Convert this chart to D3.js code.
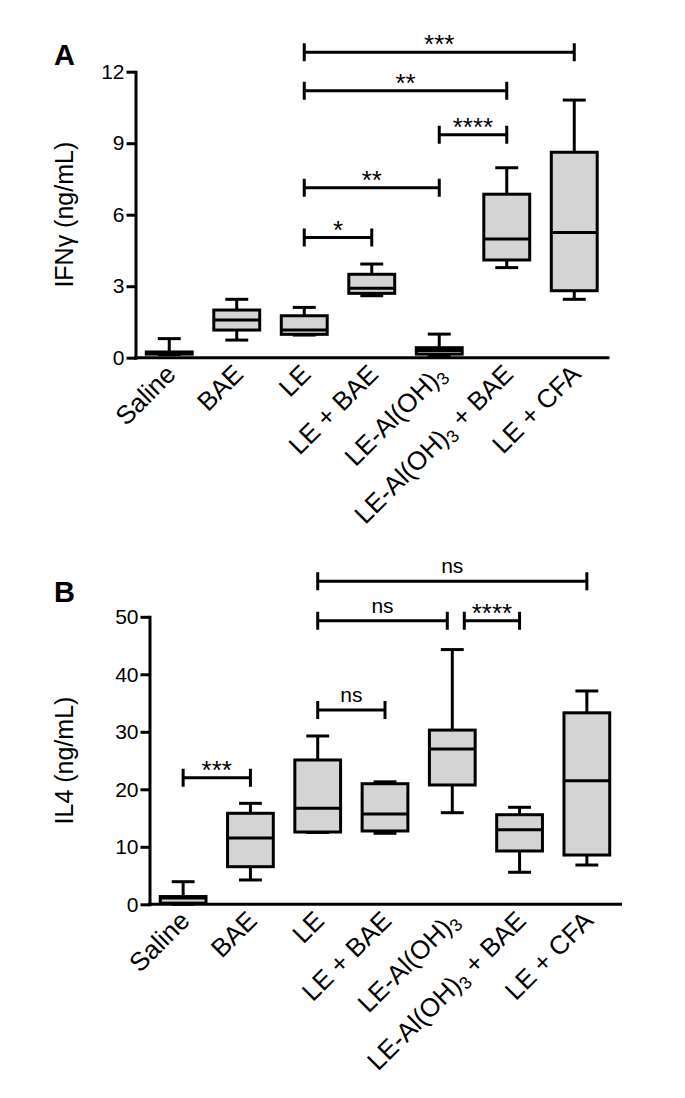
<!DOCTYPE html>
<html>
<head>
<meta charset="utf-8">
<script src="https://cdn.jsdelivr.net/npm/d3@7/dist/d3.min.js"></script>
<style>
  html, body { margin: 0; padding: 0; background: #fff; }
  svg { display: block; font-family: "Liberation Sans", Arial, Helvetica, sans-serif; }
</style>
</head>
<body>
<svg id="chart" width="685" height="1098"></svg>
<script>
// ---------------- data ----------------
const categories = ["Saline", "BAE", "LE", "LE + BAE", "LE-Al(OH)3", "LE-Al(OH)3 + BAE", "LE + CFA"];

// Panel A: IFN-gamma (ng/mL)
const ifngMin    = [0.13, 0.74, 0.95, 2.60, 0.07, 3.78, 2.45];
const ifngQ1     = [0.15, 1.16, 0.98, 2.70, 0.15, 4.10, 2.81];
const ifngMedian = [0.20, 1.58, 1.16, 2.91, 0.30, 4.98, 5.25];
const ifngQ3     = [0.24, 2.00, 1.76, 3.50, 0.42, 6.86, 8.62];
const ifngMax    = [0.80, 2.45, 2.11, 3.93, 0.99, 7.97, 10.81];
const ifngTicks  = [0, 3, 6, 9, 12];
const ifngSig = [
  ["LE", "LE + BAE", 5.04, "*"],
  ["LE", "LE-Al(OH)3", 7.13, "**"],
  ["LE-Al(OH)3", "LE-Al(OH)3 + BAE", 9.35, "****"],
  ["LE", "LE-Al(OH)3 + BAE", 11.2, "**"],
  ["LE", "LE + CFA", 12.82, "***"]
];

// Panel B: IL4 (ng/mL)
const il4Min    = [0.0, 4.23, 12.5, 12.35, 15.93, 5.57, 6.83];
const il4Q1     = [0.2, 6.54, 12.57, 12.75, 20.75, 9.27, 8.57];
const il4Median = [1.1, 11.53, 16.7, 15.7, 27.0, 12.97, 21.5];
const il4Q3     = [1.35, 15.83, 25.1, 20.97, 30.3, 15.58, 33.3];
const il4Max    = [3.93, 17.56, 29.27, 21.3, 44.3, 16.87, 37.1];
const il4Ticks  = [0, 10, 20, 30, 40, 50];
const il4Sig = [
  ["Saline", "BAE", 22.0, "***"],
  ["LE", "LE + BAE", 33.8, "ns"],
  ["LE", "LE-Al(OH)3", 49.3, "ns"],
  ["LE-Al(OH)3", "LE-Al(OH)3 + BAE", 49.3, "****"],
  ["LE", "LE + CFA", 56.2, "ns"]
];

// ---------------- drawing ----------------
const svg = d3.select("#chart");
const FILL = "#d4d4d4";
const SW = 3;

function addLabel(sel, label) {
  // subscript the 3 of Al(OH)3
  const parts = label.split(/(?<=\(OH\))3/);
  sel.text(null);
  parts.forEach((p, i) => {
    if (i > 0) {
      sel.append("tspan").attr("font-size", "0.68em").attr("dy", "0.28em").text("3");
      sel.append("tspan").attr("dy", "-0.19em").text(p);
    } else {
      sel.append("tspan").text(p);
    }
  });
}

function drawPanel(cfg) {
  const g = svg.append("g");
  const x = d3.scaleBand().domain(categories).range([cfg.left, cfg.right]).paddingInner(0).paddingOuter(0);
  const y = d3.scaleLinear().domain([cfg.ticks[0], cfg.ticks[cfg.ticks.length - 1]]).range([cfg.bottom, cfg.top]);
  const bw = x.bandwidth();
  const boxW = bw * 0.68;
  const capW = boxW * 0.5;
  const cx = c => x(c) + bw / 2;

  const rows = categories.map((c, i) => ({
    c, min: cfg.min[i], q1: cfg.q1[i], med: cfg.med[i], q3: cfg.q3[i], max: cfg.max[i]
  }));

  // y axis
  const yAxis = d3.axisLeft(y).tickValues(cfg.ticks).tickSize(9).tickSizeOuter(0).tickPadding(2);
  const ya = g.append("g").attr("transform", `translate(${cfg.left},0)`).call(yAxis);
  ya.select(".domain").attr("stroke", "#000").attr("stroke-width", SW).attr("stroke-linecap", "square");
  ya.selectAll(".tick line").attr("stroke", "#000").attr("stroke-width", SW);
  ya.selectAll(".tick text").attr("font-size", 21).attr("fill", "#000")
    .attr("font-family", "'Liberation Sans', Arial, sans-serif");

  // x axis
  const xAxis = d3.axisBottom(x).tickSize(0).tickSizeOuter(0).tickPadding(0);
  const xa = g.append("g").attr("transform", `translate(0,${cfg.bottom})`).call(xAxis);
  xa.select(".domain").attr("stroke", "#000").attr("stroke-width", SW).attr("stroke-linecap", "square")
    .attr("d", `M${cfg.left},0H${cfg.right}`);
  xa.selectAll(".tick text")
    .attr("font-size", 26).attr("fill", "#000")
    .attr("font-family", "'Liberation Sans', Arial, sans-serif")
    .attr("text-anchor", "end")
    .attr("y", null).attr("dy", null)
    .attr("transform", "translate(8,18) rotate(-45)")
    .each(function(d) { addLabel(d3.select(this), d); });

  // whiskers
  const bx = g.append("g");
  bx.selectAll("line.wh").data(rows).join("line").attr("class", "wh")
    .attr("x1", d => cx(d.c)).attr("x2", d => cx(d.c))
    .attr("y1", d => y(d.min)).attr("y2", d => y(d.max))
    .attr("stroke", "#000").attr("stroke-width", SW);
  bx.selectAll("line.capmax").data(rows).join("line").attr("class", "capmax")
    .attr("x1", d => cx(d.c) - capW / 2).attr("x2", d => cx(d.c) + capW / 2)
    .attr("y1", d => y(d.max)).attr("y2", d => y(d.max))
    .attr("stroke", "#000").attr("stroke-width", SW);
  bx.selectAll("line.capmin").data(rows).join("line").attr("class", "capmin")
    .attr("x1", d => cx(d.c) - capW / 2).attr("x2", d => cx(d.c) + capW / 2)
    .attr("y1", d => y(d.min)).attr("y2", d => y(d.min))
    .attr("stroke", "#000").attr("stroke-width", SW);
  // boxes
  bx.selectAll("rect").data(rows).join("rect")
    .attr("x", d => cx(d.c) - boxW / 2).attr("width", boxW)
    .attr("y", d => y(d.q3)).attr("height", d => Math.max(0.5, y(d.q1) - y(d.q3)))
    .attr("fill", FILL).attr("stroke", "#000").attr("stroke-width", SW);
  bx.selectAll("line.med").data(rows).join("line").attr("class", "med")
    .attr("x1", d => cx(d.c) - boxW / 2).attr("x2", d => cx(d.c) + boxW / 2)
    .attr("y1", d => y(d.med)).attr("y2", d => y(d.med))
    .attr("stroke", "#000").attr("stroke-width", SW);

  // significance brackets
  const sg = g.append("g");
  cfg.sig.forEach(s => {
    let x1 = cx(s[0]), x2 = cx(s[1]);
    // nudge ends where another bracket at the same level shares a category
    cfg.sig.forEach(o => {
      if (o === s || o[2] !== s[2]) return;
      if (o[0] === s[1]) x2 -= 5;
      if (o[1] === s[0]) x1 += 12;
    });
    const yy = y(s[2]);
    const h = 9;
    sg.append("path")
      .attr("d", `M${x1},${yy - h}V${yy + h}M${x1},${yy}H${x2}M${x2},${yy - h}V${yy + h}`)
      .attr("fill", "none").attr("stroke", "#000").attr("stroke-width", SW);
    const isStar = s[3].indexOf("*") >= 0;
    sg.append("text")
      .attr("x", (x1 + x2) / 2)
      .attr("y", isStar ? yy + 1 : yy - 8)
      .attr("text-anchor", "middle")
      .attr("font-size", isStar ? 26 : 21)
      .attr("fill", "#000")
      .text(s[3]);
  });

  // y title
  g.append("text")
    .attr("transform", `translate(${cfg.titleX},${(cfg.top + cfg.bottom) / 2}) rotate(-90)`)
    .attr("text-anchor", "middle").attr("font-size", 25).attr("fill", "#000")
    .text(cfg.title);

  // panel letter
  g.append("text")
    .attr("x", cfg.letterX).attr("y", cfg.letterY)
    .attr("font-size", 29).attr("font-weight", "bold").attr("fill", "#000")
    .text(cfg.letter);
}

drawPanel({
  letter: "A", letterX: 54, letterY: 65,
  title: "IFN\u03B3 (ng/mL)", titleX: 73,
  left: 135.5, right: 608, top: 71.7, bottom: 357.7,
  ticks: ifngTicks,
  min: ifngMin, q1: ifngQ1, med: ifngMedian, q3: ifngQ3, max: ifngMax,
  sig: ifngSig
});

drawPanel({
  letter: "B", letterX: 54, letterY: 602,
  title: "IL4 (ng/mL)", titleX: 73,
  left: 149.5, right: 620.5, top: 616.8, bottom: 904.3,
  ticks: il4Ticks,
  min: il4Min, q1: il4Q1, med: il4Median, q3: il4Q3, max: il4Max,
  sig: il4Sig
});
</script>
</body>
</html>
